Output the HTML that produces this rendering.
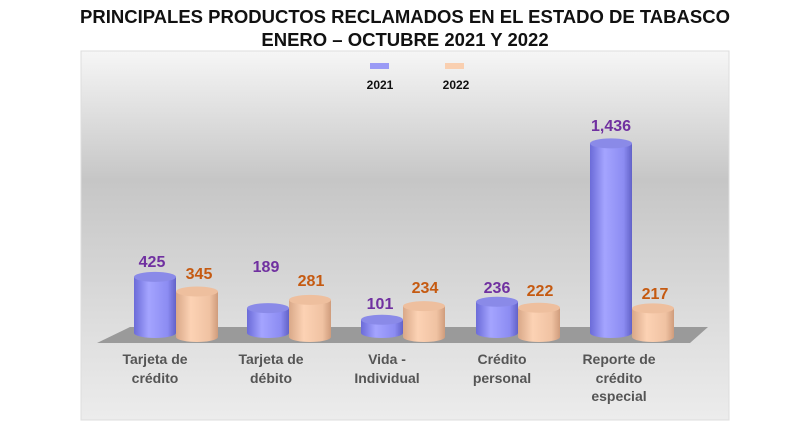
<!DOCTYPE html>
<html><head><meta charset="utf-8"><style>
html,body{margin:0;padding:0;background:#fff;}
svg{display:block;font-family:"Liberation Sans",sans-serif;}
</style></head><body>
<svg width="809" height="438" viewBox="0 0 809 438">
<defs>
<linearGradient id="bg" x1="0" y1="0" x2="0" y2="1">
<stop offset="0" stop-color="#f6f6f6"/><stop offset="0.35" stop-color="#c6c6c6"/><stop offset="0.75" stop-color="#dedede"/><stop offset="1" stop-color="#ececec"/>
</linearGradient>
<linearGradient id="pu" x1="0" y1="0" x2="1" y2="0">
<stop offset="0" stop-color="#6b6bd8"/><stop offset="0.35" stop-color="#a4a4ff"/><stop offset="0.8" stop-color="#8c8cf2"/><stop offset="1" stop-color="#6262c8"/>
</linearGradient>
<linearGradient id="pe" x1="0" y1="0" x2="1" y2="0">
<stop offset="0" stop-color="#d9a888"/><stop offset="0.35" stop-color="#fcd2b4"/><stop offset="0.8" stop-color="#f0c2a2"/><stop offset="1" stop-color="#cf9c7c"/>
</linearGradient>
</defs>
<text x="405" y="23" text-anchor="middle" font-size="18.5" font-weight="bold" fill="#111">PRINCIPALES PRODUCTOS RECLAMADOS EN EL ESTADO DE TABASCO</text>
<text x="405" y="46" text-anchor="middle" font-size="18.5" font-weight="bold" fill="#111">ENERO – OCTUBRE 2021 Y 2022</text>
<rect x="81" y="51" width="648" height="369" fill="url(#bg)" stroke="#ddd"/>
<rect x="370" y="63" width="19" height="6" fill="#9a9af5"/>
<rect x="445" y="63" width="19" height="6" fill="#f9cfb0"/>
<text x="380" y="89" text-anchor="middle" font-size="12" font-weight="bold" fill="#111">2021</text>
<text x="456" y="89" text-anchor="middle" font-size="12" font-weight="bold" fill="#111">2022</text>
<polygon points="130,327 708,327 690,343 97,343" fill="#9a9a9a"/>
<g>
<path d="M134,276.9 L134,333 A21,5 0 0 0 176,333 L176,276.9 Z" fill="url(#pu)"/><ellipse cx="155" cy="276.9" rx="21" ry="5" fill="#8a8ae8"/>
<path d="M176,291.5 L176,337 A21,5 0 0 0 218,337 L218,291.5 Z" fill="url(#pe)"/><ellipse cx="197" cy="291.5" rx="21" ry="5" fill="#eebf9e"/>
<path d="M247,308.1 L247,333 A21,5 0 0 0 289,333 L289,308.1 Z" fill="url(#pu)"/><ellipse cx="268" cy="308.1" rx="21" ry="5" fill="#8a8ae8"/>
<path d="M289,299.9 L289,337 A21,5 0 0 0 331,337 L331,299.9 Z" fill="url(#pe)"/><ellipse cx="310" cy="299.9" rx="21" ry="5" fill="#eebf9e"/>
<path d="M361,319.7 L361,333 A21,5 0 0 0 403,333 L403,319.7 Z" fill="url(#pu)"/><ellipse cx="382" cy="319.7" rx="21" ry="5" fill="#8a8ae8"/>
<path d="M403,306.1 L403,337 A21,5 0 0 0 445,337 L445,306.1 Z" fill="url(#pe)"/><ellipse cx="424" cy="306.1" rx="21" ry="5" fill="#eebf9e"/>
<path d="M476,301.8 L476,333 A21,5 0 0 0 518,333 L518,301.8 Z" fill="url(#pu)"/><ellipse cx="497" cy="301.8" rx="21" ry="5" fill="#8a8ae8"/>
<path d="M518,307.7 L518,337 A21,5 0 0 0 560,337 L560,307.7 Z" fill="url(#pe)"/><ellipse cx="539" cy="307.7" rx="21" ry="5" fill="#eebf9e"/>
<path d="M590,143.4 L590,333 A21,5 0 0 0 632,333 L632,143.4 Z" fill="url(#pu)"/><ellipse cx="611" cy="143.4" rx="21" ry="5" fill="#8a8ae8"/>
<path d="M632,308.4 L632,337 A21,5 0 0 0 674,337 L674,308.4 Z" fill="url(#pe)"/><ellipse cx="653" cy="308.4" rx="21" ry="5" fill="#eebf9e"/>
</g>
<g font-size="16" font-weight="bold" text-anchor="middle">
<text x="152" y="267" fill="#7030a0">425</text>
<text x="199" y="279" fill="#c55a11">345</text>
<text x="266" y="272" fill="#7030a0">189</text>
<text x="311" y="286" fill="#c55a11">281</text>
<text x="380" y="309" fill="#7030a0">101</text>
<text x="425" y="293" fill="#c55a11">234</text>
<text x="497" y="293" fill="#7030a0">236</text>
<text x="540" y="296" fill="#c55a11">222</text>
<text x="611" y="131" fill="#7030a0">1,436</text>
<text x="655" y="299" fill="#c55a11">217</text>
</g>
<g font-size="14" font-weight="bold" text-anchor="middle" fill="#555">
<text x="155" y="364">Tarjeta de</text><text x="155" y="383">crédito</text>
<text x="271" y="364">Tarjeta de</text><text x="271" y="383">débito</text>
<text x="387" y="364">Vida -</text><text x="387" y="383">Individual</text>
<text x="502" y="364">Crédito</text><text x="502" y="383">personal</text>
<text x="619" y="364">Reporte de</text><text x="619" y="383">crédito</text><text x="619" y="401">especial</text>
</g>
</svg>
</body></html>
